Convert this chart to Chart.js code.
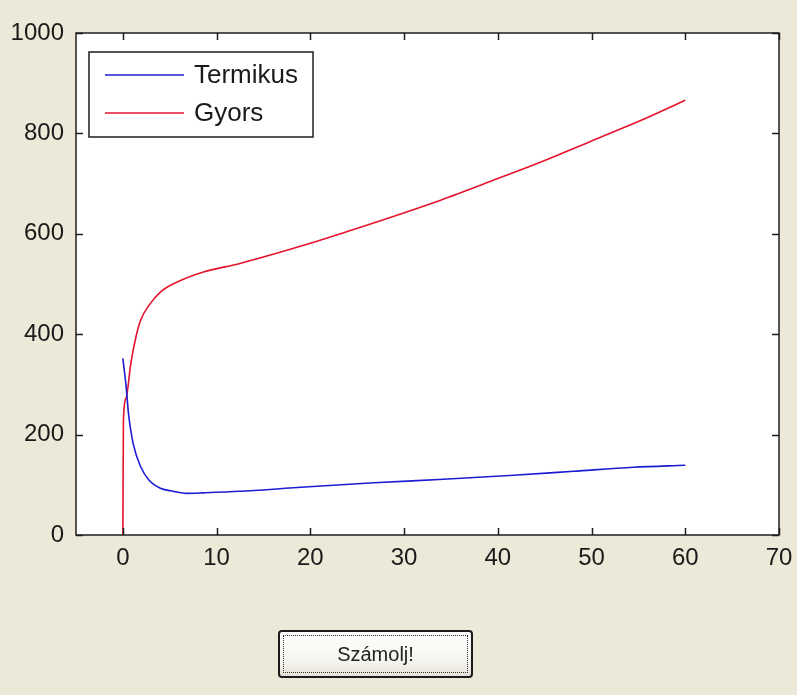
<!DOCTYPE html>
<html>
<head>
<meta charset="utf-8">
<title>Termikus / Gyors</title>
<script src="https://cdn.jsdelivr.net/npm/chart.js@4/dist/chart.umd.min.js"></script>
<style>
  html, body { margin: 0; padding: 0; background: #ece9d8; }
  #wrap { position: relative; width: 797px; height: 695px; }
  #chart { position: absolute; left: 0; top: 0; }
  #calcBtn {
    position: absolute; left: 278px; top: 630px; width: 195px; height: 48px;
    box-sizing: border-box; border: 2px solid #1b1b1b; border-radius: 4px;
    background: linear-gradient(#ffffff, #f4f3ee 70%, #e3e1d6);
    font: 20px "Liberation Sans", Arial, sans-serif; color: #222;
    padding: 3px; cursor: pointer;
  }
  #calcBtn span {
    display: flex; align-items: center; justify-content: center;
    width: 100%; height: 100%; box-sizing: border-box;
    border: 1px dotted #333;
  }
</style>
</head>
<body>
<div id="wrap">
  <canvas id="chart" width="797" height="695"></canvas>
  <button id="calcBtn"><span>Számolj!</span></button>
</div>
<script>
// adatok
const termikusX = [0, 0.35, 0.6, 1.1, 1.9, 2.8, 4.0, 5.1, 6.8, 8.6, 12.5, 18.2, 26.8, 34.2, 41.7, 48.1, 54.5, 60];
const termikusY = [352, 295, 242, 182, 136, 109, 93, 88, 83, 84, 87, 94, 104, 111, 119, 127, 135, 139];

const gyorsX = [0, 0.06, 0.33, 0.85, 1.4, 1.9, 2.8, 4.0, 5.8, 8.6, 12.5, 20, 23.2, 33.9, 40, 44.6, 50, 55.3, 60];
const gyorsY = [0, 230, 272, 342, 395, 428, 458, 484, 504, 524, 541, 581, 600, 667, 710, 743, 785, 826, 866];

const xTicks = [0, 10, 20, 30, 40, 50, 60, 70];
const yTicks = [0, 200, 400, 600, 800, 1000];

const seriesNames = ['Termikus', 'Gyors'];
const seriesColors = ['#1c1cd2', '#e3142c'];

const toPoints = (xs, ys) => xs.map((x, i) => ({ x: x, y: ys[i] }));

const FONT = '"Liberation Sans", Arial, sans-serif';

// matlab-szerű doboz, belső tickekkel, fehér háttérrel
const boxPlugin = {
    id: 'box',
    beforeDraw(chart) {
        const a = chart.chartArea, ctx = chart.ctx;
        ctx.save();
        ctx.fillStyle = '#ffffff';
        ctx.fillRect(a.left, a.top, a.right - a.left, a.bottom - a.top);
        ctx.restore();
    },
    afterDraw(chart) {
        const a = chart.chartArea, ctx = chart.ctx;
        const xs = chart.scales.x, ys = chart.scales.y;
        const len = 7;
        ctx.save();
        ctx.strokeStyle = '#1e1e1e';
        ctx.lineWidth = 1.5;
        ctx.strokeRect(a.left, a.top, a.right - a.left, a.bottom - a.top);
        ctx.beginPath();
        xs.ticks.forEach(t => {
            const px = Math.round(xs.getPixelForValue(t.value)) + 0.5;
            ctx.moveTo(px, a.bottom); ctx.lineTo(px, a.bottom - len);
            ctx.moveTo(px, a.top); ctx.lineTo(px, a.top + len);
        });
        ys.ticks.forEach(t => {
            const py = Math.round(ys.getPixelForValue(t.value)) + 0.5;
            ctx.moveTo(a.left, py); ctx.lineTo(a.left + len, py);
            ctx.moveTo(a.right, py); ctx.lineTo(a.right - len, py);
        });
        ctx.stroke();

        // jelmagyarázat a bal felső sarokban
        const lx = a.left + 13, ly = a.top + 19, lw = 224, lh = 85;
        ctx.fillStyle = '#ffffff';
        ctx.fillRect(lx, ly, lw, lh);
        ctx.lineWidth = 1.5;
        ctx.strokeRect(lx, ly, lw, lh);
        ctx.font = '26px ' + FONT;
        ctx.textBaseline = 'middle';
        chart.data.datasets.forEach((ds, i) => {
            const y = ly + 23 + i * 38;
            ctx.strokeStyle = ds.borderColor;
            ctx.lineWidth = 1.6;
            ctx.beginPath();
            ctx.moveTo(lx + 16, y); ctx.lineTo(lx + 95, y);
            ctx.stroke();
            ctx.fillStyle = '#1a1a1a';
            ctx.fillText(ds.label, lx + 105, y + 1);
        });
        ctx.restore();
    }
};

const ctx = document.getElementById('chart').getContext('2d');
const chart = new Chart(ctx, {
    type: 'scatter',
    data: {
        datasets: [
            { label: seriesNames[0], data: toPoints(termikusX, termikusY), borderColor: seriesColors[0],
              showLine: true, pointRadius: 0, borderWidth: 1.6, cubicInterpolationMode: 'monotone' },
            { label: seriesNames[1], data: toPoints(gyorsX, gyorsY), borderColor: seriesColors[1],
              showLine: true, pointRadius: 0, borderWidth: 1.6, cubicInterpolationMode: 'monotone' }
        ]
    },
    options: {
        responsive: false,
        animation: false,
        layout: { padding: { left: 0, top: 33, right: 18, bottom: 120 } },
        plugins: { legend: { display: false }, tooltip: { enabled: false } },
        scales: {
            x: {
                type: 'linear', min: -5, max: 70,
                afterBuildTicks: s => { s.ticks = xTicks.map(v => ({ value: v })); },
                afterFit: s => { s.height = 40; s.paddingLeft = 0; s.paddingRight = 0; },
                grid: { display: false, drawTicks: false },
                border: { display: false },
                ticks: { color: '#1a1a1a', font: { family: FONT, size: 24 }, padding: 9, maxRotation: 0,
                         callback: v => String(v) }
            },
            y: {
                type: 'linear', min: 0, max: 1000,
                afterBuildTicks: s => { s.ticks = yTicks.map(v => ({ value: v })); },
                afterFit: s => { s.width = 76; s.paddingTop = 0; s.paddingBottom = 0; },
                grid: { display: false, drawTicks: false },
                border: { display: false },
                ticks: { color: '#1a1a1a', font: { family: FONT, size: 24 }, padding: 12,
                         callback: v => String(v) }
            }
        }
    },
    plugins: [boxPlugin]
});
</script>
</body>
</html>
